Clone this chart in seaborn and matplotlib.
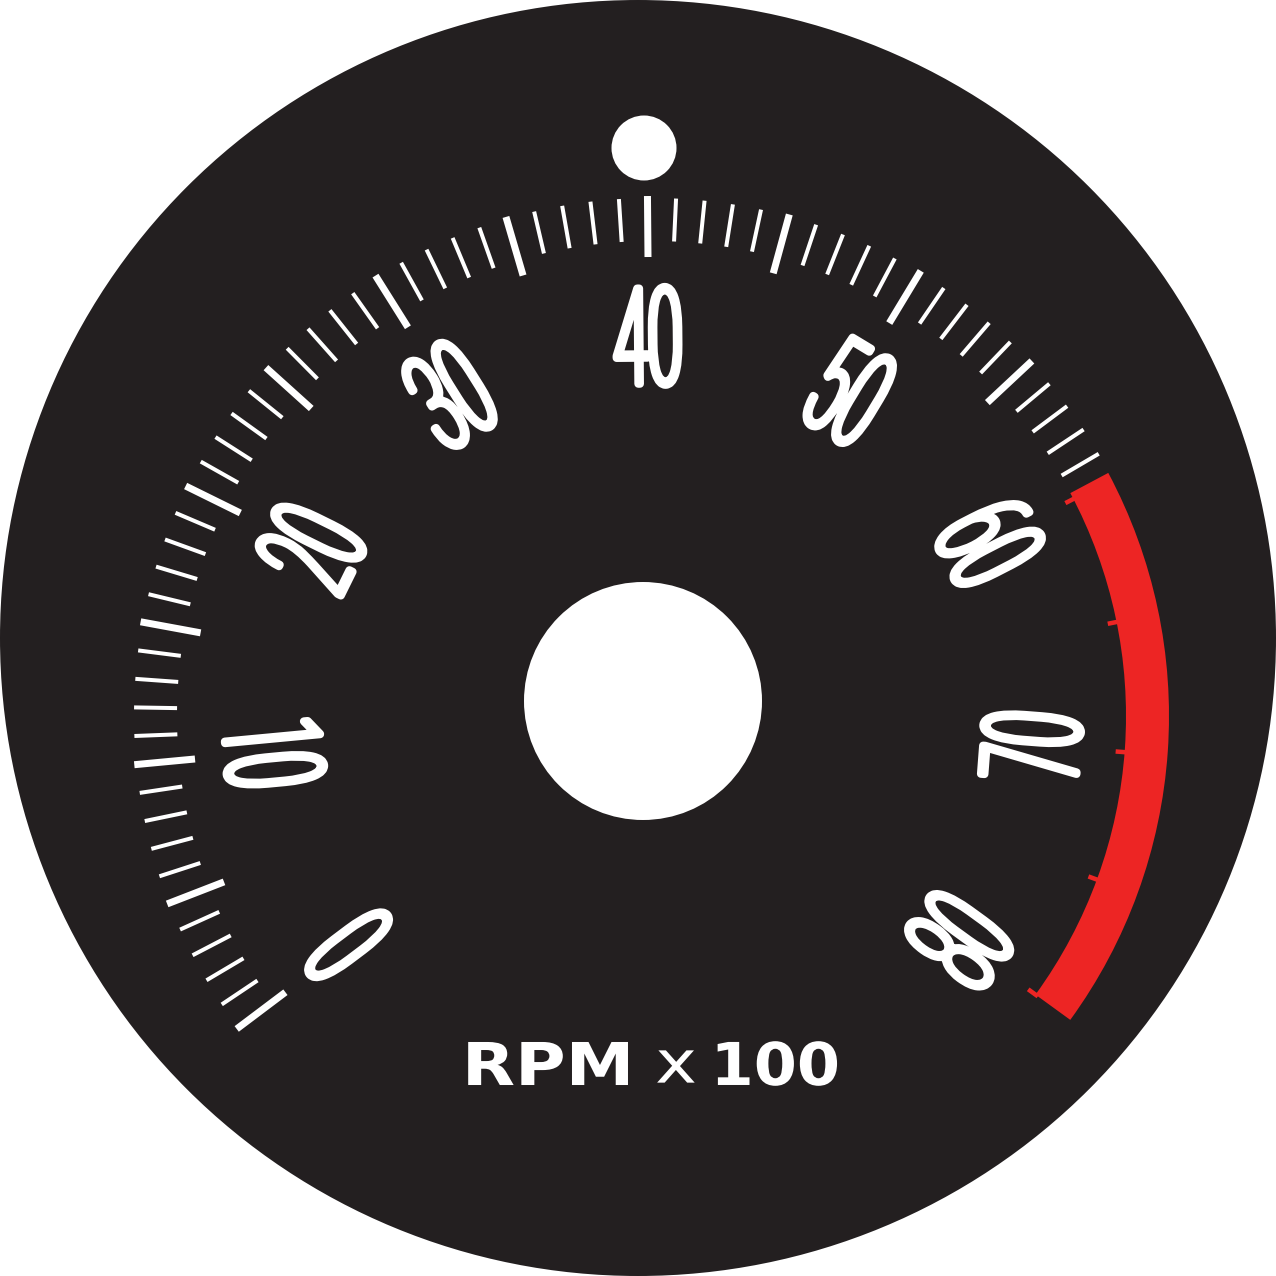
import numpy as np
import pandas as pd
import seaborn as sns
from matplotlib import pyplot as plt
from matplotlib import patheffects as pe
from matplotlib.patches import Circle, Wedge
from matplotlib.textpath import TextPath
from matplotlib.font_manager import FontProperties
from matplotlib.transforms import Affine2D

#--------------------------Data------------------------------------------------
rpm_range = (0, 80)
major_step = 5
white_ticks = list(range(0, 60))          # white graduations, one per 100 rpm
redline = (60, 80)                        # red zone
red_notches = [60, 65, 70, 75, 80]
label_values = [0, 10, 20, 30, 40, 50, 60, 70, 80]
label_texts = ['0', '10', '20', '30', '40', '50', '60', '70', '80']
unit_texts = ['RPM', 'x', '100']

#--------------------------Layout----------------------------------------------
SIZE = 1276
CX, CY = 652, 560          # centre of the scale
ARC = (-127.0, 126.0)      # clockwise angles (from 12 o'clock) of the scale ends
DARK = '#231f20'
RED = '#ed2524'
PX = 0.72                  # points per pixel at dpi 100


def angle_cw(v):
    """clockwise angle from 12 o'clock, in degrees"""
    frac = (v - rpm_range[0]) / (rpm_range[1] - rpm_range[0])
    return ARC[0] + frac * (ARC[1] - ARC[0])


def polar(v, r):
    a = np.deg2rad(angle_cw(v))
    return CX + r * np.sin(a), CY + r * np.cos(a)


class Squeeze(pe.AbstractPathEffect):
    """draw glyphs squeezed around their own centre (condensed numerals)"""

    def __init__(self, sx, **kwargs):
        super().__init__()
        self.sx = sx
        self._gc = kwargs

    def draw_path(self, renderer, gc, tpath, affine, rgbFace):
        ext = tpath.get_extents()
        mx, my = (ext.x0 + ext.x1) / 2, (ext.y0 + ext.y1) / 2
        sq = Affine2D().translate(-mx, -my).scale(self.sx, 1).translate(mx, 0)
        gc0 = renderer.new_gc()
        gc0.copy_properties(gc)
        gc0 = self._update_gc(gc0, self._gc)
        renderer.draw_path(gc0, tpath, sq + affine, rgbFace)
        gc0.restore()


sns.set_theme(style='white')
plt.rcParams['font.family'] = ['DejaVu Sans']

fig = plt.figure(figsize=(SIZE / 100, SIZE / 100), dpi=100)
ax = fig.add_axes([0, 0, 1, 1])
ax.set_xlim(0, SIZE)
ax.set_ylim(0, SIZE)
ax.set_aspect('equal')
ax.axis('off')

# dial face, centre hole and reference dot
ax.add_patch(Circle((638, 638), 638, fc=DARK, ec='none'))
ax.add_patch(Circle((643, 575), 119, fc='white', ec='none'))
ax.add_patch(Circle((644, 1128), 32.5, fc='white', ec='none'))

#--------------------------Graduations-----------------------------------------
rows = []
for v in white_ticks:
    major = v % major_step == 0
    r_in, r_out = (459, 520) if major else (475, 518)
    for r in (r_in, r_out):
        x, y = polar(v, r)
        rows.append({'tick': v, 'kind': 'major' if major else 'minor', 'x': x, 'y': y})
ticks_df = pd.DataFrame(rows)
sns.lineplot(data=ticks_df, x='x', y='y', units='tick', estimator=None, sort=False,
             size='kind', sizes={'major': 7 * PX, 'minor': 4 * PX}, color='white',
             legend=False, ax=ax, solid_capstyle='butt')

# red zone
t1, t2 = 90 - angle_cw(redline[1]), 90 - angle_cw(redline[0])
ax.add_patch(Wedge((CX, CY), 517, t1, t2 + 0.8, width=43, fc=RED, ec='none'))
for v in red_notches:
    (x0, y0), (x1, y1) = polar(v, 465), polar(v, 477)
    ax.plot([x0, x1], [y0, y1], color=RED, lw=4.5 * PX, solid_capstyle='butt')

#--------------------------Numerals--------------------------------------------
num_font = FontProperties(family=['Roboto', 'DejaVu Sans'], weight='light')
probe = TextPath((0, 0), '40', size=1, prop=num_font).get_extents()
num_lw = 8.0                                   # stroke that thickens the glyphs, px
num_h = 106.0 - num_lw                         # glyph height in px
num_size = num_h / probe.height * PX           # points
num_sx = ((70.0 - num_lw) / num_h) / (probe.width / probe.height)

for v, s in zip(label_values, label_texts):
    rot = -angle_cw(v)
    if rot > 90:
        rot -= 180
    elif rot < -90:
        rot += 180
    x, y = polar(v, 380)
    ax.text(x, y, s, color='white', fontproperties=num_font, fontsize=num_size,
            rotation=rot, rotation_mode='anchor', ha='center', va='baseline',
            path_effects=[Squeeze(num_sx, linewidth=num_lw * PX,
                                  capstyle='round', joinstyle='round')])

#--------------------------Unit legend------------------------------------------
unit_x = [548, 676, 775.5]
unit_y = [212.5, 209.5, 212.5]
unit_weight = ['bold', 'normal', 'bold']
unit_sx = [1.17, 1.2, 1.05]
for s, x, y, w, sx in zip(unit_texts, unit_x, unit_y, unit_weight, unit_sx):
    ax.text(x, y, s, color='white', family='DejaVu Sans', weight=w, fontsize=42.5,
            ha='center', va='baseline', path_effects=[Squeeze(sx)])

fig.savefig('out.png', dpi=100, facecolor='white')
